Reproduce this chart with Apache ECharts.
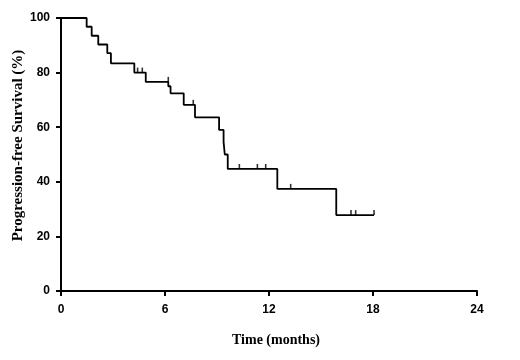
<!DOCTYPE html>
<html>
<head>
<meta charset="utf-8">
<script src="https://cdn.jsdelivr.net/npm/echarts@6/dist/echarts.min.js"></script>
<style>html,body{margin:0;padding:0;background:#fff}#c{width:520px;height:360px}</style>
</head>
<body>
<div id="c"></div>
<script>
// Kaplan-Meier step points: [time (months), survival (%)]
var stepTimes = [0, 1.48, 1.77, 2.15, 2.67, 2.88, 4.23, 4.89, 6.19, 6.32, 7.08, 7.73, 9.12, 9.38, 9.45, 9.62, 12.48, 15.88, 18.06];
var stepSurv  = [100, 96.8, 93.5, 90.3, 87.1, 83.4, 80.0, 76.6, 75.0, 72.4, 68.2, 63.6, 59.0, 54.6, 50.0, 44.7, 37.4, 27.8, 27.8];
// Censored observations
var censorTimes = [4.42, 4.69, 6.19, 7.63, 10.29, 11.33, 11.81, 13.25, 16.73, 17.0, 18.06];
var censorSurv  = [80.0, 80.0, 76.6, 68.2, 44.7, 44.7, 44.7, 37.4, 27.8, 27.8, 27.8];
var xTicks = [0, 6, 12, 18, 24];
var yTicks = [0, 20, 40, 60, 80, 100];

var stepData = stepTimes.map(function(t, i){ return [t, stepSurv[i]]; });
var censorData = censorTimes.map(function(t, i){ return [t, censorSurv[i]]; });

var chart = echarts.init(document.getElementById('c'), null, {renderer: 'canvas'});
var labelStyle = {color: '#000', fontFamily: 'Liberation Sans', fontWeight: 'bold', fontSize: 12};
chart.setOption({
  animation: false,
  backgroundColor: '#fff',
  grid: {left: 61, right: 43, top: 18, bottom: 69, containLabel: false, outerBoundsMode: 'none'},
  xAxis: {
    type: 'value', min: xTicks[0], max: xTicks[xTicks.length-1], interval: 6,
    name: 'Time (months)', nameLocation: 'middle', nameGap: 42, nameMoveOverlap: false,
    nameTextStyle: {color: '#000', fontFamily: 'Liberation Serif', fontWeight: 'bold', fontSize: 14, padding: [0, 0, 0, 14]},
    axisLine: {show: true, lineStyle: {color: '#000', width: 2}},
    axisTick: {show: true, length: 5, lineStyle: {color: '#000', width: 2}},
    axisLabel: Object.assign({margin: 13}, labelStyle),
    splitLine: {show: false}
  },
  yAxis: {
    type: 'value', min: yTicks[0], max: yTicks[yTicks.length-1], interval: 20,
    name: 'Progression-free Survival (%)', nameLocation: 'middle', nameGap: 35, nameMoveOverlap: false,
    nameTextStyle: {color: '#000', fontFamily: 'Liberation Serif', fontWeight: 'bold', fontSize: 15, padding: [0, 0, 0, 18]},
    axisLine: {show: true, lineStyle: {color: '#000', width: 2}},
    axisTick: {show: true, length: 5, lineStyle: {color: '#000', width: 2}},
    axisLabel: Object.assign({margin: 11}, labelStyle),
    splitLine: {show: false}
  },
  series: [
    {
      type: 'line', step: 'end', data: stepData, symbol: 'none',
      lineStyle: {color: '#000', width: 1.8}, z: 3
    },
    {
      type: 'scatter', data: censorData, symbol: 'rect', symbolSize: [1.6, 5], symbolOffset: [0, -2.5],
      itemStyle: {color: '#000'}, z: 4
    }
  ]
});
</script>
</body>
</html>
